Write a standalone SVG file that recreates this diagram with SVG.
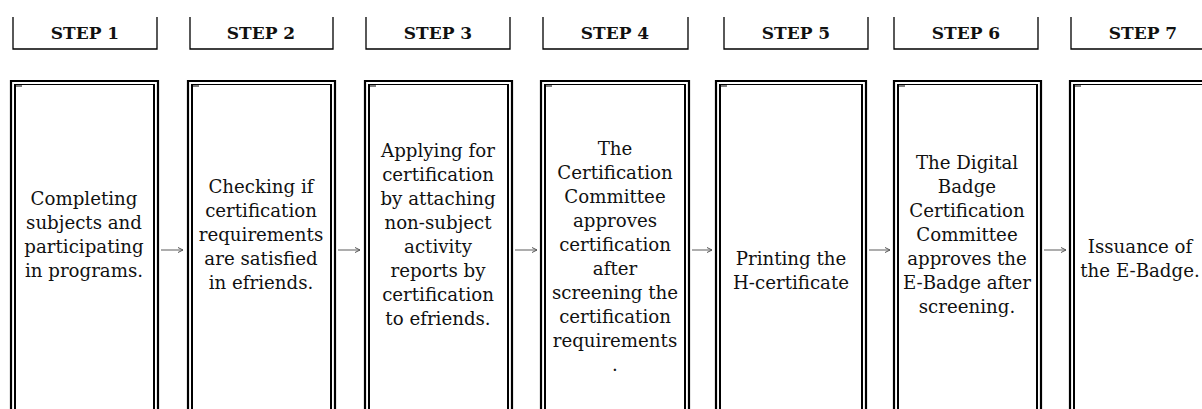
<svg xmlns="http://www.w3.org/2000/svg" width="1202" height="409" viewBox="0 0 1202 409">
<defs>
<marker id="ah" markerWidth="8" markerHeight="8" refX="6" refY="3" orient="auto" markerUnits="userSpaceOnUse">
<path d="M1,0.5 L6,3 L1,5.5" fill="none" stroke="#555" stroke-width="1"/>
</marker>
</defs>
<style>
.hd{fill:none;stroke:#000;stroke-width:1.3}
.ht{font-family:"DejaVu Serif","Liberation Serif",serif;font-weight:bold;font-size:17px;text-anchor:middle;fill:#111}
.ob{fill:none;stroke:#000;stroke-width:2.2}
.ib{fill:none;stroke:#000;stroke-width:2}
.it{fill:none;stroke:#000;stroke-width:1.2}
.tx{font-family:"DejaVu Serif","Liberation Serif",serif;font-size:18.2px;text-anchor:middle;fill:#111}
.ar{stroke:#777;stroke-width:1.2;fill:none;marker-end:url(#ah)}
</style>
<rect width="1202" height="409" fill="#fff"/>

<g id="header1"><path class="hd" d="M13,17 V49 H157 V17"/><text class="ht" x="85" y="39">STEP 1</text></g>
<g id="header2"><path class="hd" d="M190,17 V49 H333 V17"/><text class="ht" x="261" y="39">STEP 2</text></g>
<g id="header3"><path class="hd" d="M366,17 V49 H510 V17"/><text class="ht" x="438" y="39">STEP 3</text></g>
<g id="header4"><path class="hd" d="M543,17 V49 H688 V17"/><text class="ht" x="615" y="39">STEP 4</text></g>
<g id="header5"><path class="hd" d="M724,17 V49 H868 V17"/><text class="ht" x="796" y="39">STEP 5</text></g>
<g id="header6"><path class="hd" d="M894,17 V49 H1038 V17"/><text class="ht" x="966" y="39">STEP 6</text></g>
<g id="header7"><path class="hd" d="M1071,17 V49 H1215 V17"/><text class="ht" x="1143" y="39">STEP 7</text></g>

<g id="step1">
<path class="ob" d="M11,409 V81 H158 V409"/>
<path class="ib" d="M15,409 V85 M154,85 V409"/><path class="it" d="M14,84.5 H155 M16,86 H22"/>
<text class="tx"><tspan x="84" y="205">Completing</tspan><tspan x="84" y="229">subjects and</tspan><tspan x="84" y="253">participating</tspan><tspan x="84" y="277">in programs.</tspan></text>
</g>
<g id="step2">
<path class="ob" d="M188,409 V81 H335 V409"/>
<path class="ib" d="M192,409 V85 M331,85 V409"/><path class="it" d="M191,84.5 H332 M193,86 H199"/>
<text class="tx"><tspan x="261" y="193">Checking if</tspan><tspan x="261" y="217">certification</tspan><tspan x="261" y="241">requirements</tspan><tspan x="261" y="265">are satisfied</tspan><tspan x="261" y="289">in efriends.</tspan></text>
</g>
<g id="step3">
<path class="ob" d="M365,409 V81 H512 V409"/>
<path class="ib" d="M369,409 V85 M508,85 V409"/><path class="it" d="M368,84.5 H509 M370,86 H376"/>
<text class="tx"><tspan x="438" y="157">Applying for</tspan><tspan x="438" y="181">certification</tspan><tspan x="438" y="205">by attaching</tspan><tspan x="438" y="229">non-subject</tspan><tspan x="438" y="253">activity</tspan><tspan x="438" y="277">reports by</tspan><tspan x="438" y="301">certification</tspan><tspan x="438" y="325">to efriends.</tspan></text>
</g>
<g id="step4">
<path class="ob" d="M541,409 V81 H689 V409"/>
<path class="ib" d="M545,409 V85 M685,85 V409"/><path class="it" d="M544,84.5 H686 M546,86 H552"/>
<text class="tx"><tspan x="615" y="155">The</tspan><tspan x="615" y="179">Certification</tspan><tspan x="615" y="203">Committee</tspan><tspan x="615" y="227">approves</tspan><tspan x="615" y="251">certification</tspan><tspan x="615" y="275">after</tspan><tspan x="615" y="299">screening the</tspan><tspan x="615" y="323">certification</tspan><tspan x="615" y="347">requirements</tspan><tspan x="615" y="371">.</tspan></text>
</g>
<g id="step5">
<path class="ob" d="M716,409 V81 H866 V409"/>
<path class="ib" d="M720,409 V85 M862,85 V409"/><path class="it" d="M719,84.5 H863 M721,86 H727"/>
<text class="tx"><tspan x="791" y="265">Printing the</tspan><tspan x="791" y="289">H-certificate</tspan></text>
</g>
<g id="step6">
<path class="ob" d="M894,409 V81 H1041 V409"/>
<path class="ib" d="M898,409 V85 M1037,85 V409"/><path class="it" d="M897,84.5 H1038 M899,86 H905"/>
<text class="tx"><tspan x="967" y="169">The Digital</tspan><tspan x="967" y="193">Badge</tspan><tspan x="967" y="217">Certification</tspan><tspan x="967" y="241">Committee</tspan><tspan x="967" y="265">approves the</tspan><tspan x="967" y="289">E-Badge after</tspan><tspan x="967" y="313">screening.</tspan></text>
</g>
<g id="step7">
<path class="ob" d="M1070,409 V81 H1217 V409"/>
<path class="ib" d="M1074,409 V85 M1213,85 V409"/><path class="it" d="M1073,84.5 H1214 M1075,86 H1081"/>
<text class="tx"><tspan x="1140" y="253">Issuance of</tspan><tspan x="1140" y="277">the E-Badge.</tspan></text>
</g>

<g id="connectors">
<line class="ar" x1="161" y1="250" x2="183" y2="250"/>
<line class="ar" x1="338" y1="250" x2="360" y2="250"/>
<line class="ar" x1="515" y1="250" x2="537" y2="250"/>
<line class="ar" x1="692" y1="250" x2="712" y2="250"/>
<line class="ar" x1="869" y1="250" x2="890" y2="250"/>
<line class="ar" x1="1044" y1="250" x2="1066" y2="250"/>
</g>
</svg>
